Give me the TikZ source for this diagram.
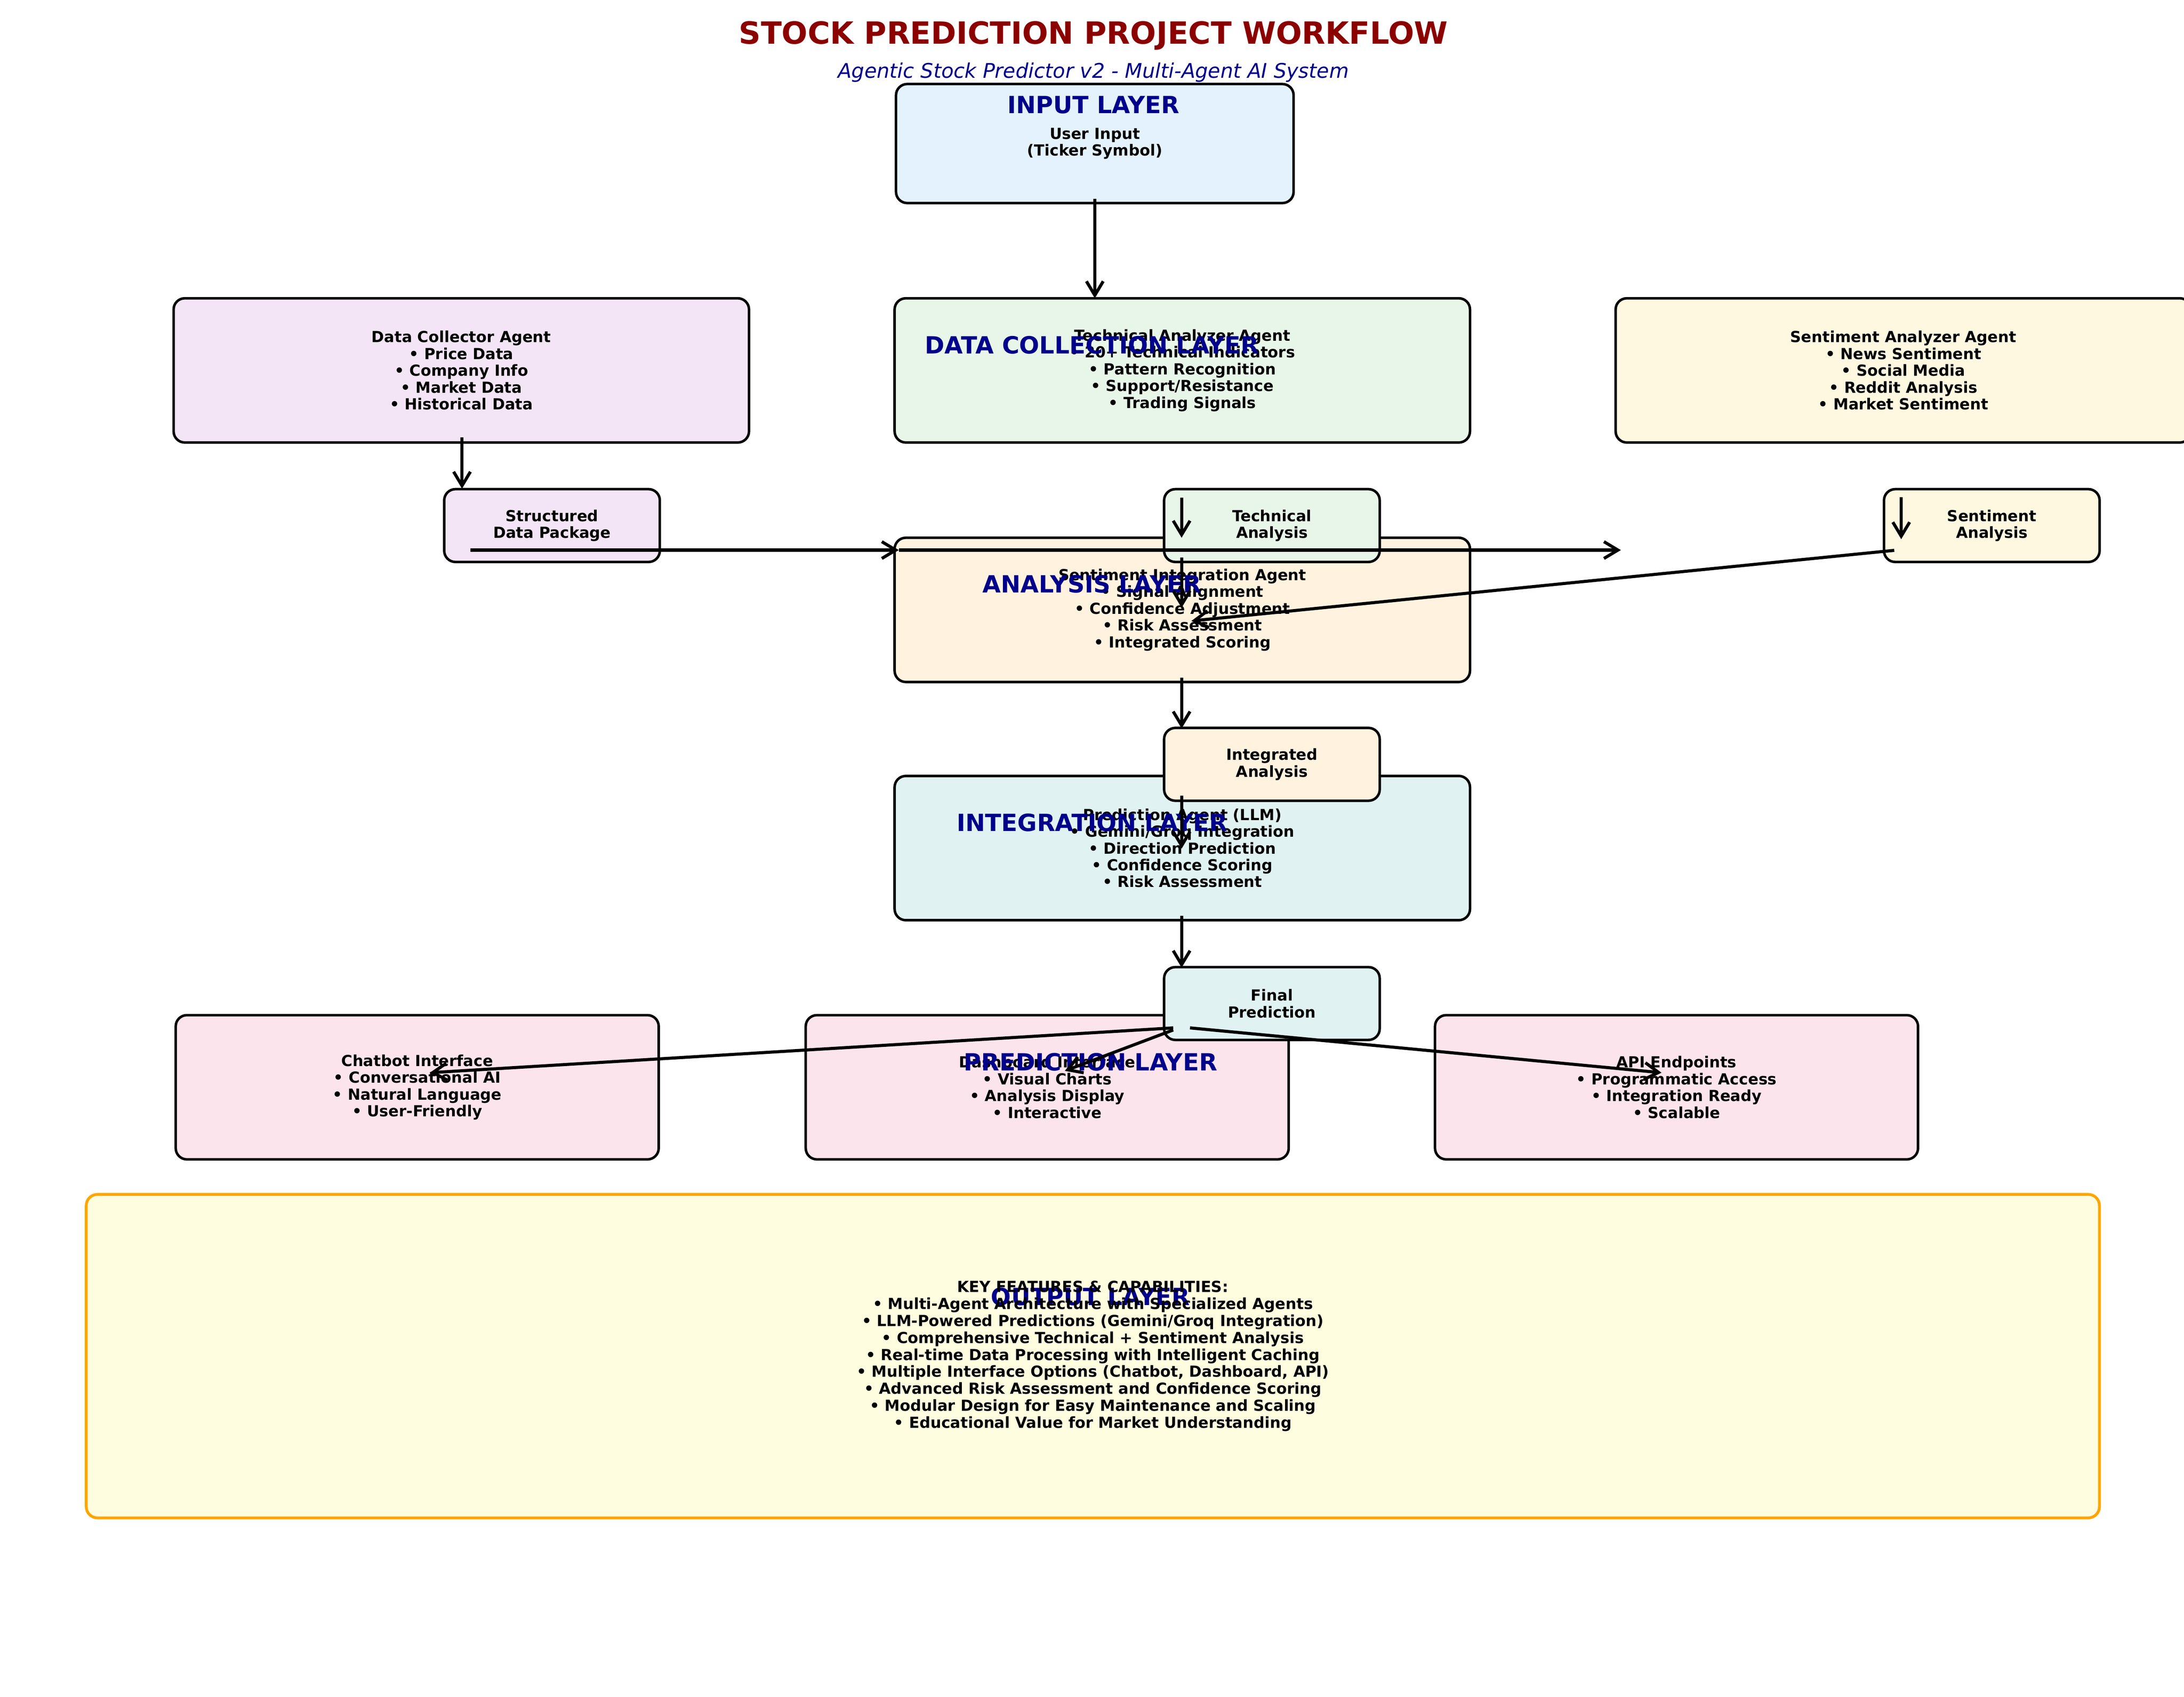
\documentclass[tikz,border=0pt]{standalone}
\usepackage{fontspec}
\setmainfont{DejaVu Sans}
\usetikzlibrary{arrows.meta}
\definecolor{titlered}{HTML}{8B0000}
\definecolor{labelblue}{HTML}{00008B}
\definecolor{inputfill}{HTML}{E3F2FD}
\definecolor{collectfill}{HTML}{F3E5F5}
\definecolor{techfill}{HTML}{E8F5E9}
\definecolor{sentfill}{HTML}{FFF8E1}
\definecolor{anafill}{HTML}{FFF3E0}
\definecolor{intfill}{HTML}{E0F2F1}
\definecolor{outfill}{HTML}{FCE4EC}
\definecolor{keyfill}{HTML}{FFFDE0}
\definecolor{keyedge}{HTML}{FFA500}
\begin{document}
\begin{tikzpicture}[x=1pt,y=-1pt,
  box/.style={draw=black, line width=1.8pt, rounded corners=8pt, inner sep=0pt, align=center,
    font=\bfseries\fontsize{10.9}{12}\selectfont},
  bigbox/.style={box, minimum width=411pt, minimum height=103pt},
  smallbox/.style={box, minimum width=154pt, minimum height=52pt},
  outbox/.style={box, minimum width=345pt, minimum height=103pt},
  layerlabel/.style={text=labelblue, font=\bfseries\fontsize{16.9}{20}\selectfont, inner sep=0pt},
  bodytext/.style={align=center, inner sep=0pt, font=\bfseries\fontsize{10.9}{12.1}\selectfont},
  flow/.style={line width=2.2pt, -{Straight Barb[length=10pt,width=12pt]}}]
\useasboundingbox (0,0) rectangle (1560,1211.5);
\fill[white] (0,0) rectangle (1560,1211.5);

% title
\node[anchor=base, inner sep=0pt, text=titlered, font=\bfseries\fontsize{21.8}{26}\selectfont] (title) at (781,31.5) {STOCK PREDICTION PROJECT WORKFLOW};
\node[anchor=base, inner sep=0pt, text=labelblue, font=\itshape\fontsize{14.4}{17}\selectfont] (subtitle) at (781,55.7) {Agentic Stock Predictor v2 - Multi-Agent AI System};

% big boxes
\node[box, minimum width=284pt, minimum height=85pt, fill=inputfill] (input) at (782,102.5) {User Input\\(Ticker Symbol)};
\node[bigbox, fill=collectfill] (collector) at (329.5,264.5) {Data Collector Agent\\• Price Data\\• Company Info\\• Market Data\\• Historical Data};
\node[bigbox, fill=techfill] (technical) at (844.5,264.5) {Technical Analyzer Agent\\• 20+ Technical Indicators\\• Pattern Recognition\\• Support/Resistance\\• Trading Signals};
\node[bigbox, fill=sentfill] (sentiment) at (1359.5,264.5) {Sentiment Analyzer Agent\\• News Sentiment\\• Social Media\\• Reddit Analysis\\• Market Sentiment};
\node[bigbox, fill=anafill] (analysis) at (844.5,435.5) {Sentiment Integration Agent\\• Signal Alignment\\• Confidence Adjustment\\• Risk Assessment\\• Integrated Scoring};
\node[bigbox, fill=intfill] (integration) at (844.5,605.6) {Prediction Agent (LLM)\\• Gemini/Groq Integration\\• Direction Prediction\\• Confidence Scoring\\• Risk Assessment};
\node[outbox, fill=outfill] (chatbot) at (298,776.4) {Chatbot Interface\\• Conversational AI\\• Natural Language\\• User-Friendly};
\node[outbox, fill=outfill] (dashboard) at (748,776.4) {Dashboard Interface\\• Visual Charts\\• Analysis Display\\• Interactive};
\node[outbox, fill=outfill] (api) at (1197.5,776.4) {API Endpoints\\• Programmatic Access\\• Integration Ready\\• Scalable};

% small boxes
\node[smallbox, fill=collectfill] (structured) at (394.3,375.3) {Structured\\Data Package};
\node[smallbox, fill=techfill] (techsmall) at (908.5,375.3) {Technical\\Analysis};
\node[smallbox, fill=sentfill] (sentsmall) at (1422.7,375.3) {Sentiment\\Analysis};
\node[smallbox, fill=anafill] (integrated) at (908.5,545.8) {Integrated\\Analysis};
\node[smallbox, fill=intfill] (final) at (908.5,716.6) {Final\\Prediction};

% key features box
\node[draw=keyedge, line width=2pt, rounded corners=8pt, fill=keyfill, minimum width=1438pt, minimum height=231pt, inner sep=0pt] (keybox) at (780.6,968.4) {};

% layer labels
\node[layerlabel] (lblinput) at (781,75) {INPUT LAYER};
\node[layerlabel] (lblcollect) at (780,246.5) {DATA COLLECTION LAYER};
\node[layerlabel] (lblanalysis) at (780,417) {ANALYSIS LAYER};
\node[layerlabel] (lblintegration) at (780,587.5) {INTEGRATION LAYER};
\node[layerlabel] (lblprediction) at (779,758.5) {PREDICTION LAYER};
\node[layerlabel] (lbloutput) at (779,926) {OUTPUT LAYER};

\node[bodytext] (keytext) at (keybox.center) {KEY FEATURES \& CAPABILITIES:\\• Multi-Agent Architecture with Specialized Agents\\• LLM-Powered Predictions (Gemini/Groq Integration)\\• Comprehensive Technical + Sentiment Analysis\\• Real-time Data Processing with Intelligent Caching\\• Multiple Interface Options (Chatbot, Dashboard, API)\\• Advanced Risk Assessment and Confidence Scoring\\• Modular Design for Easy Maintenance and Scaling\\• Educational Value for Market Understanding};

% arrow end points
\coordinate (a1s) at (782,142);   \coordinate (a1e) at (782,213);
\coordinate (a2s) at (330,312.4); \coordinate (a2e) at (330,349);
\coordinate (a3s) at (844,355.3); \coordinate (a3e) at (844,384);
\coordinate (a4s) at (1358,355);  \coordinate (a4e) at (1358,385);
\coordinate (a5s) at (336,392.8); \coordinate (a5e) at (642,392.8);
\coordinate (a6e) at (1157.8,392.8);
\coordinate (a7s) at (1353,393);  \coordinate (a7e) at (851,443.4);
\coordinate (a8s) at (844,398);   \coordinate (a8e) at (844,434);
\coordinate (a9s) at (844,484);   \coordinate (a9e) at (844,520.2);
\coordinate (a10s) at (844,568.3); \coordinate (a10e) at (844,606);
\coordinate (a11s) at (844,654);  \coordinate (a11e) at (844,691);
\coordinate (a12s) at (838,734);  \coordinate (a12e) at (307,766);
\coordinate (a13s) at (838,735.5); \coordinate (a13e) at (760.6,764.7);
\coordinate (a14s) at (850,734);  \coordinate (a14e) at (1186.8,766);

% connectors
\draw[flow] (a1s) -- (a1e);
\draw[flow] (a2s) -- (a2e);
\draw[flow] (a3s) -- (a3e);
\draw[flow] (a4s) -- (a4e);
\draw[flow] (a5s) -- (a5e);
\draw[flow] (a5e) -- (a6e);
\draw[flow] (a7s) -- (a7e);
\draw[flow] (a8s) -- (a8e);
\draw[flow] (a9s) -- (a9e);
\draw[flow] (a10s) -- (a10e);
\draw[flow] (a11s) -- (a11e);
\draw[flow] (a12s) -- (a12e);
\draw[flow] (a13s) -- (a13e);
\draw[flow] (a14s) -- (a14e);
\end{tikzpicture}
\end{document}
